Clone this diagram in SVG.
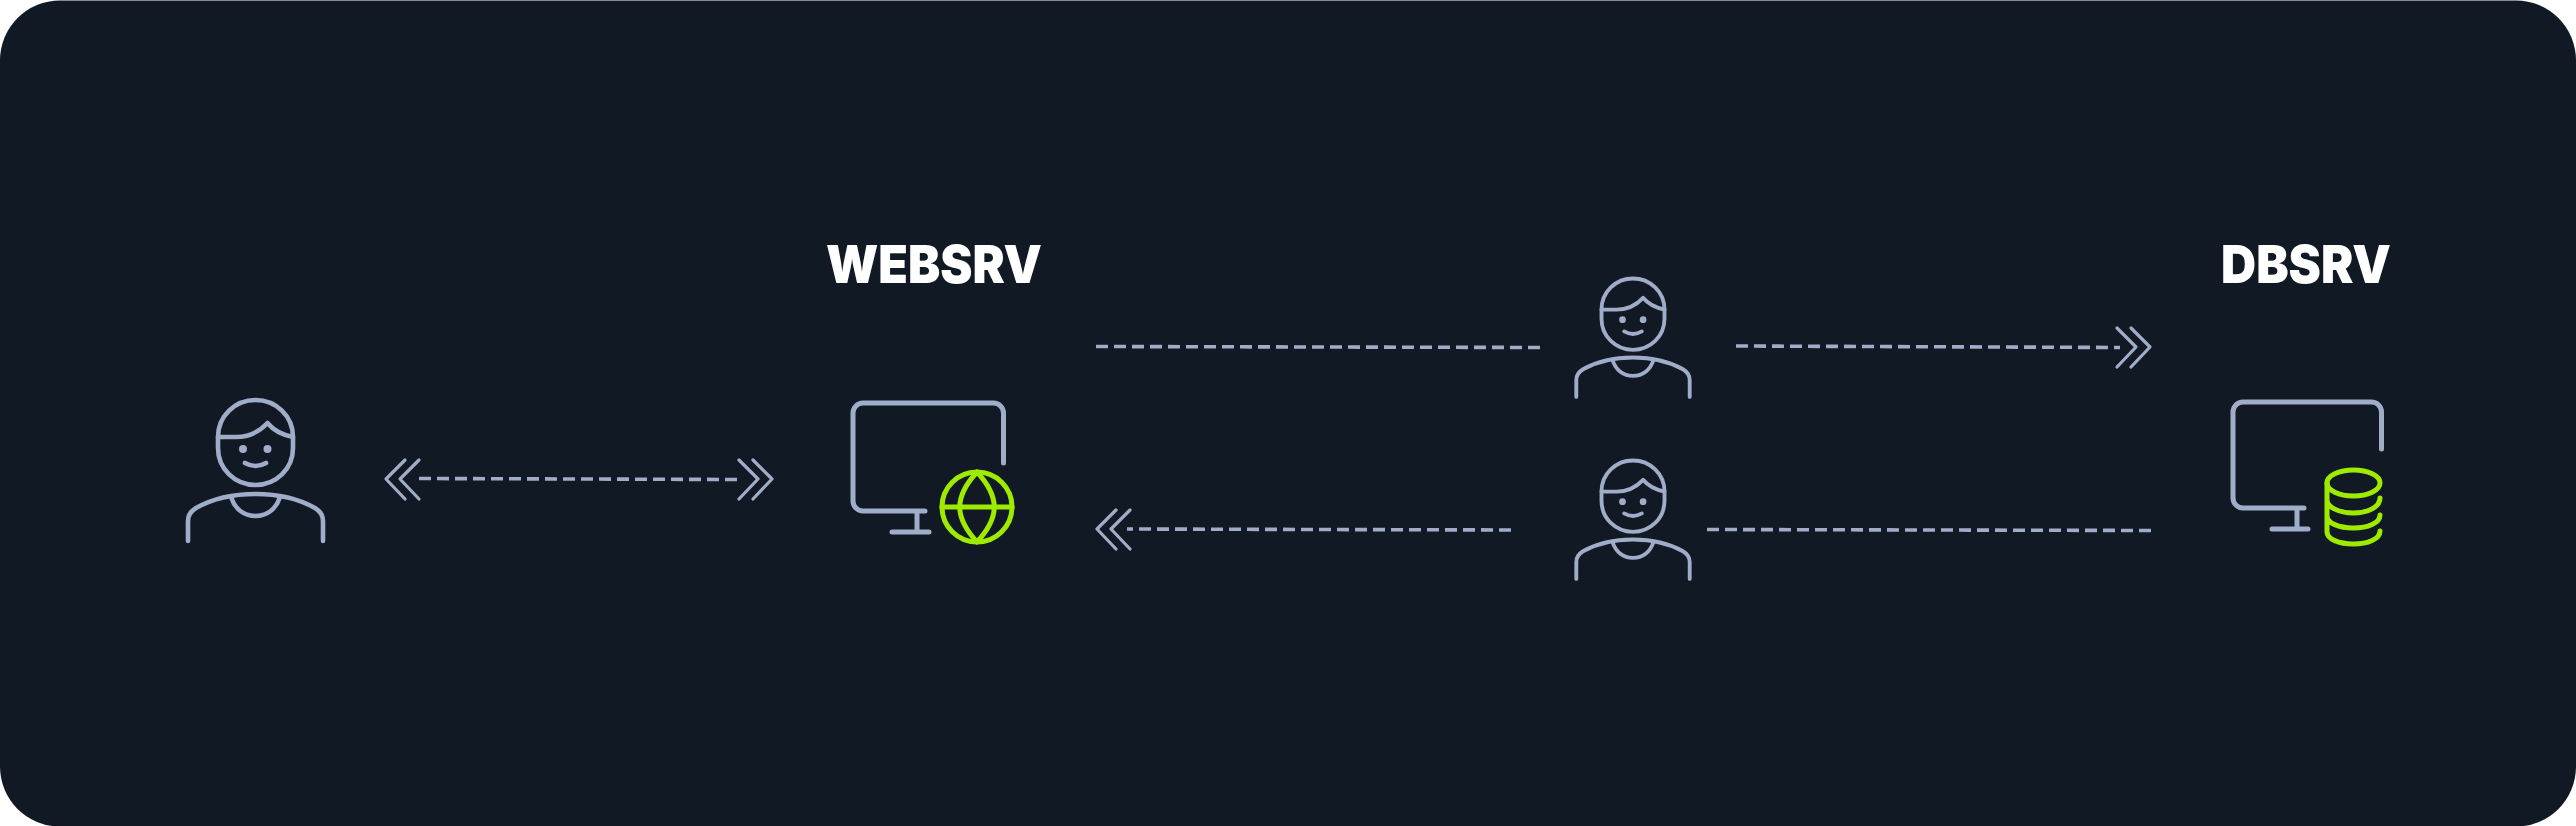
<svg xmlns="http://www.w3.org/2000/svg" width="2576" height="826" viewBox="0 0 2576 826">
<style>
.i{fill:none;stroke:#9FADC9;stroke-width:4.6;stroke-linecap:round;stroke-linejoin:round}
.g{fill:none;stroke:#9FEB00;stroke-width:5;stroke-linecap:round;stroke-linejoin:round}
.m{stroke-width:5}
.c{fill:none;stroke:#9FADC9;stroke-width:3.2;stroke-linecap:round;stroke-linejoin:round}
.d{fill:none;stroke:#9FADC9;stroke-width:3.6;stroke-dasharray:12 6}
.t{font-family:"Inter","Liberation Sans",sans-serif;font-weight:900;font-size:52px;fill:#fff}
</style>
<defs>
<g id="person" class="i">
<path d="M218 437C218 416 235 400 255.500 400C276 400 293 416 293 437V448C293 469 276 485 255.500 485C235 485 218 469 218 448Z"/>
<path d="M218 437H236C250 437 260 431 267.500 423C274 431 283 435 293 437"/>
<path d="M245 463Q255.500 469 266 463"/>
<path d="M188 541V521C188 515 191 511 196 508C212 499 233 494 255.500 494C278 494 299 499 315 508C320 511 323 515 323 521V541"/>
<path d="M231 497C235 509 244 516 255.500 516C267 516 276 509 280 497"/>
<circle cx="243" cy="449" r="4" fill="#9FADC9" stroke="none"/>
<circle cx="267.500" cy="449" r="4" fill="#9FADC9" stroke="none"/>
</g>
</defs>
<rect width="2576" height="826" fill="#fff"/>
<rect y="0.500" width="2576" height="826" rx="60" fill="#111924"/>
<g id="connectors">
<path class="c" d="M405 460L386 479L405 499M419 460L400 479L419 499"/>
<path class="d" d="M419 478.500L737 479.500"/>
<path class="c" d="M739 460L758 479L739 499M753 460L772 479L753 499"/>
<path class="d" d="M1096 346.500L1540 347.500"/>
<path class="d" d="M1736 346L2120 347.500"/>
<path class="c" d="M2117 328L2136 347L2117 367M2131 328L2150 347L2131 367"/>
<path class="d" d="M1511 530L1127 529"/>
<path class="c" d="M1116 510L1097 529L1116 549M1130 510L1111 529L1130 549"/>
<path class="d" d="M1707 529.500L2151 530.500"/>
</g>
<g id="client"><use href="#person"/></g>
<g id="user-top"><use href="#person" transform="translate(1633 278.500) scale(.84) translate(-255.500 -400)"/></g>
<g id="user-bottom"><use href="#person" transform="translate(1633 460.500) scale(.84) translate(-255.500 -400)"/></g>
<g id="websrv">
<text class="t" x="826" y="283" textLength="216" lengthAdjust="spacingAndGlyphs">WEBSRV</text>
<path class="i m" d="M1003.500 463V413A10 10 0 0 0 993.500 403H863A10 10 0 0 0 853 413V501A10 10 0 0 0 863 511H925M917 511V532M892 532H929"/>
<circle class="g" cx="977" cy="507" r="35"/>
<path class="g" d="M977 472C954 497 954 517 977 542C1000 517 1000 497 977 472ZM942 507H1012"/>
</g>
<g id="dbsrv">
<text class="t" x="2221" y="283" textLength="170" lengthAdjust="spacingAndGlyphs">DBSRV</text>
<path class="i m" d="M2381.500 449V412A10 10 0 0 0 2371.500 402H2243A10 10 0 0 0 2233 412V498A10 10 0 0 0 2243 508H2304M2297 508V529M2272 529H2308"/>
<ellipse class="g" cx="2353.500" cy="483" rx="26.500" ry="13"/>
<path class="g" d="M2327 483V532C2327 539 2339 544 2353 544C2368 544 2380 539 2380 531M2327 500C2327 507 2339 513 2353 513C2368 513 2380 507 2380 498M2327 516C2327 523 2339 528 2353 528C2368 528 2380 523 2380 515"/>
</g>
</svg>
